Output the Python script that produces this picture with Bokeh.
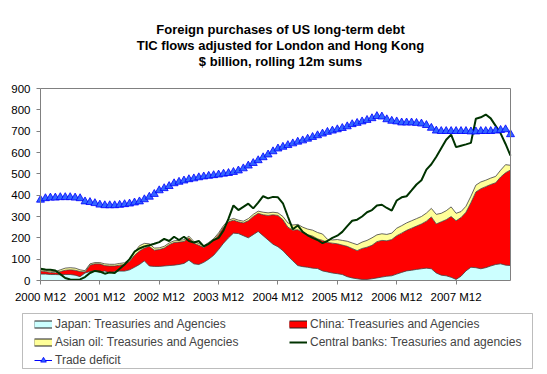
from bokeh.plotting import figure
from bokeh.models import Range1d, FixedTicker, Legend, LegendItem, BoxAnnotation, Label
from bokeh.embed import file_html
from bokeh.resources import INLINE
import numpy as np

# ---- data (USD billion, rolling 12m sums), monthly 2000 M12 .. 2008 M11 ----
MONTHS = [f"{2000 + (11 + i) // 12} M{(11 + i) % 12 + 1}" for i in range(96)]
TICK_LABELS = ["2000 M12", "2001 M12", "2002 M12", "2003 M12",
               "2004 M12", "2005 M12", "2006 M12", "2007 M12"]
Y_TICKS = list(range(0, 901, 100))
TITLE_LINES = ["Foreign purchases of US long-term debt",
               "TIC flows adjusted for London and Hong Kong",
               "$ billion, rolling 12m sums"]

japan = [30, 30, 28, 28, 27, 28, 28, 25, 18, 35, 42, 45,
         38, 45, 35, 42, 44, 44, 50, 62, 75, 92, 68, 66,
         66, 68, 70, 72, 75, 80, 95, 78, 75, 85, 100, 118,
         145, 175, 200, 222, 220, 210, 200, 215, 230, 210, 190, 170,
         158, 140, 115, 92, 70, 65, 62, 58, 56, 45, 40, 35,
         32, 28, 18, 12, 8, 5, 5, 8, 12, 16, 20, 22,
         30, 38, 45, 48, 52, 55, 58, 55, 35, 25, 22, 15,
         5, 20, 45, 62, 60, 55, 60, 68, 75, 78, 72, 70]

china = [15, 12, 10, 8, 15, 20, 22, 23, 24, 5, 30, 33,
         40, 25, 33, 26, 28, 31, 40, 56, 63, 60, 92, 76,
         79, 84, 98, 106, 105, 103, 105, 97, 90, 70, 70, 70,
         70, 75, 75, 61, 55, 60, 80, 85, 85, 98, 115, 138,
         147, 145, 135, 144, 168, 160, 153, 150, 139, 143, 138, 140,
         140, 138, 142, 138, 132, 145, 151, 157, 170, 172, 166, 170,
         180, 184, 190, 197, 203, 210, 220, 243, 230, 250, 263, 285,
         275, 275, 275, 303, 355, 375, 380, 382, 383, 407, 433, 448]

asian_oil = [6, 6, 6, 6, 8, 10, 10, 10, 8, 6, 6, 6,
             6, 8, 8, 8, 8, 8, 10, 15, 25, 22, 12, 10,
             8, 8, 8, 8, 8, 8, 8, 8, 8, 8, 8, 8,
             8, 8, 8, 8, 8, 8, 10, 10, 10, 12, 12, 12,
             12, 15, 20, 24, 25, 25, 26, 28, 30, 30, 15, 15,
             20, 22, 24, 26, 28, 30, 32, 35, 32, 31, 30, 30,
             35, 35, 35, 35, 35, 35, 38, 40, 45, 40, 42, 45,
             35, 28, 28, 30, 32, 32, 30, 30, 30, 32, 38, 22]

central_banks = [55, 52, 50, 47, 30, 12, 5, 3, 5, 16, 35, 45,
                 42, 32, 38, 35, 55, 75, 100, 135, 150, 160, 165, 172,
                 180, 195, 185, 205, 190, 205, 185, 178, 185, 160, 172, 190,
                 200, 235, 290, 352, 330, 345, 360, 338, 365, 395, 385, 392,
                 390, 362, 300, 240, 258, 228, 212, 200, 190, 175, 185, 200,
                 210, 228, 255, 280, 285, 300, 320, 330, 352, 355, 340, 328,
                 375, 390, 395, 422, 450, 470, 520, 545, 580, 620, 660, 684,
                 625, 632, 638, 645, 758, 765, 778, 760, 725, 690, 640, 585]

trade_deficit = [378, 385, 388, 388, 390, 390, 390, 388, 385, 370, 367, 362,
                 355, 352, 352, 352, 354, 357, 360, 365, 370, 380, 392, 405,
                 422, 432, 442, 455, 462, 468, 474, 478, 483, 487, 490, 493,
                 496, 500, 503, 508, 515, 525, 538, 550, 563, 577, 590, 605,
                 618, 626, 634, 642, 650, 656, 664, 672, 680, 688, 696, 702,
                 708, 714, 722, 732, 738, 745, 752, 760, 770, 768, 755, 748,
                 745, 740, 740, 740, 738, 735, 728, 715, 702, 700, 700, 700,
                 700, 700, 700, 698, 698, 700, 700, 700, 702, 705, 708, 685]

x = np.arange(len(MONTHS))
s1 = np.array(japan, dtype=float)
s2 = s1 + np.array(china, dtype=float)
s3 = s2 + np.array(asian_oil, dtype=float)

FONT = "Liberation Sans"

# ---- layout (pixels); the frame covers the whole canvas ----
W, H = 547, 374
PA_L, PA_R, PA_T, PA_B = 40, 510, 88, 280   # plot area (data region) in pixels
kx = (PA_R - PA_L) / (x[-1] - x[0])
ky = (PA_B - PA_T) / (Y_TICKS[-1] - Y_TICKS[0])
x_start = x[0] - PA_L / kx
x_end = x[-1] + (W - PA_R) / kx
y_start = Y_TICKS[0] - (H - PA_B) / ky
y_end = Y_TICKS[-1] + PA_T / ky

def px_x(px):
    return x[0] + (px - PA_L) / kx

def px_y(py):
    return Y_TICKS[0] + (PA_B - py) / ky

p = figure(width=W, height=H, output_backend="svg", toolbar_location=None,
           x_range=Range1d(x_start, x_end), y_range=Range1d(y_start, y_end),
           min_border_left=0, min_border_right=0, min_border_top=0, min_border_bottom=0)

p.background_fill_color = "white"
p.border_fill_color = "white"
p.outline_line_color = None
p.grid.visible = False

# title (three centred bold lines)
for line, base in zip(TITLE_LINES, (29, 45, 61)):
    p.add_layout(Label(x=px_x(280), y=px_y(base), text=line, text_align="center",
                       text_baseline="alphabetic", text_font=FONT, text_font_size="13px",
                       text_font_style="bold", text_color="black"))

# stacked areas
r_j = p.varea(x=x, y1=0, y2=s1, fill_color="#CCFFFF")
r_c = p.varea(x=x, y1=s1, y2=s2, fill_color="#FF0000")
r_a = p.varea(x=x, y1=s2, y2=s3, fill_color="#FFFF99")
for top in (s1, s2, s3):
    p.line(x, top, line_color="#404040", line_width=0.8)

r_cb = p.line(x, central_banks, line_color="#003300", line_width=2)
r_td = p.line(x, trade_deficit, line_color="#0000FF", line_width=1)
r_tm = p.scatter(x, trade_deficit, marker="triangle", size=8,
                 fill_color="#3366FF", line_color="#0000FF", line_width=0.8)

# plot-area border (top and right)
p.line([x[0], x[-1], x[-1]], [Y_TICKS[-1], Y_TICKS[-1], Y_TICKS[0]],
       line_color="#808080", line_width=1)

# axes, drawn at the data origin
p.xaxis.ticker = FixedTicker(ticks=[MONTHS.index(t) for t in TICK_LABELS])
p.xaxis.major_label_overrides = {MONTHS.index(t): t for t in TICK_LABELS}
p.xaxis.fixed_location = Y_TICKS[0]
p.xaxis.bounds = (x[0], x[-1])
p.yaxis.ticker = FixedTicker(ticks=Y_TICKS)
p.yaxis.fixed_location = x[0]
p.yaxis.bounds = (Y_TICKS[0], Y_TICKS[-1])
for ax in (p.xaxis[0], p.yaxis[0]):
    ax.axis_line_color = "#808080"
    ax.major_tick_line_color = "#808080"
    ax.minor_tick_line_color = None
    ax.major_tick_in = 0
    ax.major_tick_out = 4
    ax.major_label_text_font = FONT
    ax.major_label_text_font_size = "11.5px"
    ax.major_label_text_color = "black"
    ax.major_label_standoff = 6

# legend proxies (swatches) - one NaN point so nothing shows in the plot
def swatch(color):
    b = p.line([np.nan], [np.nan], line_color="#202020", line_width=8)
    f = p.line([np.nan], [np.nan], line_color=color, line_width=6)
    return [b, f]

items = [
    LegendItem(label="Japan: Treasuries and Agencies", renderers=swatch("#CCFFFF")),
    LegendItem(label="China: Treasuries and Agencies", renderers=swatch("#FF0000")),
    LegendItem(label="Asian oil: Treasuries and Agencies", renderers=swatch("#FFFF99")),
    LegendItem(label="Central banks: Treasuries and agencies", renderers=[r_cb]),
    LegendItem(label="Trade deficit", renderers=[r_td, r_tm]),
]
legend = Legend(items=items, orientation="horizontal", ncols=2,
                location=(34, H - 367), padding=0, margin=0, spacing=4,
                glyph_width=18, glyph_height=14, label_height=14,
                label_width=230, label_standoff=3,
                label_text_font=FONT, label_text_font_size="12px",
                border_line_alpha=0, background_fill_alpha=0)
p.add_layout(legend, "center")

box = BoxAnnotation(left=px_x(22), right=px_x(532), top=px_y(313), bottom=px_y(368),
                    fill_alpha=0, line_color="#202020", line_width=1)
p.add_layout(box)

open("out.html", "w").write(file_html(p, INLINE))
